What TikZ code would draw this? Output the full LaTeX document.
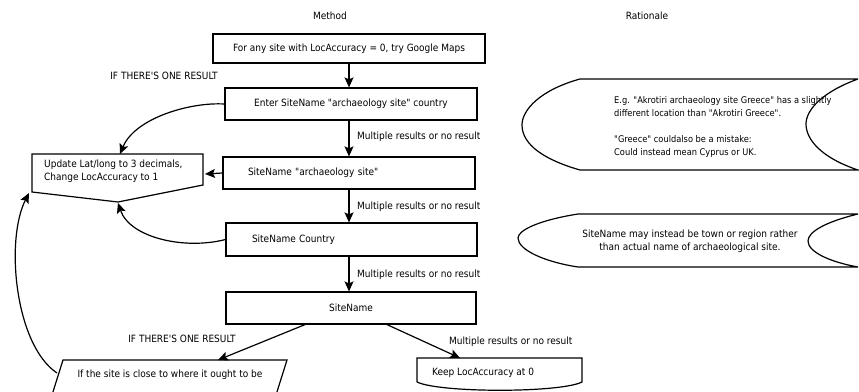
\documentclass[tikz,border=0pt]{standalone}
\usepackage{fontspec}
\setmainfont{DejaVu Sans Condensed}[Ligatures=TeXOff]
\usetikzlibrary{arrows.meta}

\begin{document}
\begin{tikzpicture}[x=1pt, y=-1pt, font=\fontsize{10}{13}\selectfont]
\tikzstyle{stepBox} = [draw, line width=1.2pt, minimum height=32pt, inner sep=0pt]
\tikzstyle{flowArrow} = [line width=1.2pt, -{Stealth[length=10pt, width=9pt, inset=2pt]}]
\tikzstyle{outline} = [line width=1.2pt, line join=miter]
\tikzstyle{noteText} = [inner sep=0pt]
\clip (0,0) rectangle (859,391);
% headings
\node[noteText] (method) at (330,16) {Method};
\node[noteText] (rationale) at (647,16) {Rationale};
% method column
\node[stepBox, minimum width=272pt, minimum height=29pt] (maps) at (349,48.5) {For any site with LocAccuracy = 0, try Google Maps};
\node[stepBox, minimum width=252pt] (full) at (351,104) {Enter SiteName "archaeology site" country};
\node[stepBox, minimum width=252pt, text width=202pt, inner xsep=25pt, align=left] (arch) at (349,173) {SiteName "archaeology site"};
\node[stepBox, minimum width=251pt, minimum height=33pt, text width=199pt, inner xsep=26pt, align=left] (country) at (351.5,239.5) {SiteName Country};
\node[stepBox, minimum width=250pt] (name) at (351,308) {SiteName};
% update box with pointed bottom
\draw[outline] (32,154) -- (203,154) -- (203,185) -- (118,202) -- (32,192) -- cycle;
\node[noteText, anchor=west, align=left] (update) at (44,171.5) {Update Lat/long to 3 decimals,\\Change LocAccuracy to 1};
\coordinate (updTop) at (120,154);
\coordinate (updDip) at (118,203);
\coordinate (updCorner) at (29,193);
\coordinate (updRight) at (205,174);
% check box (slanted)
\draw[outline] (52,395) -- (63,360) -- (287,360) -- (276,395);
\node[noteText] (check) at (170,375) {If the site is close to where it ought to be};
\coordinate (checkTop) at (218,360);
\coordinate (checkLeft) at (57,373);
% keep box
\draw[outline] (417,382) -- (417,358) -- (582,358) -- (582,382) .. controls (560,393) and (440,393) .. (417,382);
\node[noteText, anchor=west] (keep) at (432,373) {Keep LocAccuracy at 0};
\coordinate (keepTop) at (460,358);
% connectors
\draw[flowArrow] (maps.south) -- (full.north -| maps.south);
\draw[flowArrow] (full.south -| maps.south) -- (arch.north -| maps.south);
\draw[flowArrow] (arch.south -| maps.south) -- (country.north -| maps.south);
\draw[flowArrow] (country.south -| maps.south) -- (name.north -| maps.south);
\draw[flowArrow] (full.west) .. controls (190,102) and (135,118) .. (updTop);
\draw[flowArrow] (arch.west) -- (updRight);
\draw[flowArrow] (country.west) .. controls (185,250) and (130,238) .. (updDip);
\draw[flowArrow] (checkLeft) .. controls (15,345) and (5,240) .. (updCorner);
\draw[flowArrow] (name.south -| 305,0) -- (checkTop);
\draw[flowArrow] (name.south -| 387,0) -- (keepTop);
% connector labels
\node[noteText] (oneTop) at (164,76) {IF THERE'S ONE RESULT};
\node[noteText, anchor=west] (multiA) at (357,137) {Multiple results or no result};
\node[noteText, anchor=west] (multiB) at (357,207) {Multiple results or no result};
\node[noteText, anchor=west] (multiC) at (357,275) {Multiple results or no result};
\node[noteText] (oneBottom) at (182,339) {IF THERE'S ONE RESULT};
\node[noteText, anchor=west] (multiD) at (449,342) {Multiple results or no result};
% rationale column
\draw[outline] (858,79) -- (580,79) .. controls (540,90) and (522,110) .. (522,125)
  .. controls (522,145) and (545,160) .. (580,170) -- (858,170)
  .. controls (822,158) and (806,140) .. (806,124) .. controls (806,110) and (822,92) .. (858,79);
\node[noteText, anchor=west, align=left, font=\fontsize{9.2}{13}\selectfont] (noteGreece) at (614,126.5) {E.g. "Akrotiri archaeology site Greece" has a slightly\\different location than "Akrotiri Greece".\\[13pt]"Greece" couldalso be a mistake:\\Could instead mean Cyprus or UK.};
\draw[outline] (858,214) -- (578,214) .. controls (540,220) and (518,230) .. (518,238)
  .. controls (518,250) and (545,262) .. (578,267) -- (858,267)
  .. controls (830,262) and (808,252) .. (808,241) .. controls (808,232) and (825,222) .. (858,214);
\node[noteText, align=center] (noteTown) at (690,241) {SiteName may instead be town or region rather\\than actual name of archaeological site.};
\end{tikzpicture}
\end{document}
